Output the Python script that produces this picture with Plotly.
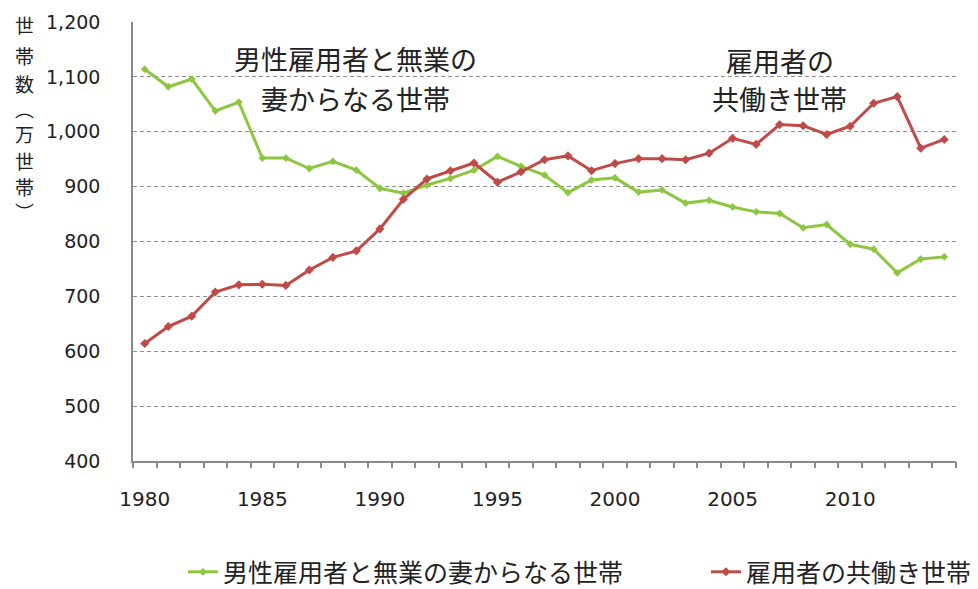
import plotly.graph_objects as go

years = list(range(1980, 2015))
sengyo = [1114, 1082, 1096, 1038, 1054, 952, 952, 933, 946, 930,
          897, 888, 903, 915, 930, 955, 937, 921, 889, 912,
          916, 890, 894, 870, 875, 863, 854, 851, 825, 831,
          795, 786, 743, 768, 772]
tomobataraki = [614, 645, 664, 708, 721, 722, 720, 748, 771, 783,
                823, 877, 914, 929, 943, 908, 927, 949, 956, 929,
                942, 951, 951, 949, 961, 988, 977, 1013, 1011, 995,
                1010, 1052, 1064, 970, 986]
name_green = "男性雇用者と無業の妻からなる世帯"
name_red = "雇用者の共働き世帯"
ytick_vals = [400, 500, 600, 700, 800, 900, 1000, 1100, 1200]
ytick_text = ["400", "500", "600", "700", "800", "900", "1,000", "1,100", "1,200"]
xtick_vals = [1980, 1985, 1990, 1995, 2000, 2005, 2010]
ytitle_chars = ["世", "帯", "数", "︵", "万", "世", "帯", "︶"]

GREEN = "#8DC63F"
RED = "#BE4B48"
JP = "Noto Sans CJK JP"
NUM = "DejaVu Sans"
AXC = "#8a8a8a"

fig = go.Figure()
fig.add_trace(go.Scatter(x=years, y=sengyo, name=name_green, mode="lines+markers",
                         line=dict(color=GREEN, width=3), legend="legend",
                         marker=dict(symbol="diamond", size=6, color=GREEN)))
fig.add_trace(go.Scatter(x=years, y=tomobataraki, name=name_red, mode="lines+markers",
                         line=dict(color=RED, width=3), legend="legend2",
                         marker=dict(symbol="diamond", size=7, color=RED)))
# carrier for the category-boundary tick axis (draws nothing)
fig.add_trace(go.Scatter(x=[years[0]], y=[None], xaxis="x2", showlegend=False,
                         hoverinfo="skip", mode="lines"))

leg_font = dict(family=JP, size=25, color="#222")
fig.update_layout(
    width=978, height=589,
    margin=dict(l=133, r=22, t=22, b=128, autoexpand=False),
    paper_bgcolor="white", plot_bgcolor="white",
    showlegend=True,
    legend=dict(orientation="h", x=(183 - 133) / 823, xanchor="left", y=-0.253, yanchor="middle",
                font=leg_font, bgcolor="rgba(0,0,0,0)"),
    legend2=dict(orientation="h", x=(706 - 133) / 823, xanchor="left", y=-0.253, yanchor="middle",
                 font=leg_font, bgcolor="rgba(0,0,0,0)"),
    xaxis=dict(range=[1979.5, 2014.5], tickvals=xtick_vals,
               ticktext=[str(v) for v in xtick_vals],
               ticks="", showgrid=False, zeroline=False,
               showline=True, linecolor=AXC, linewidth=1.5,
               tickfont=dict(family=NUM, size=20, color="#222"),
               ticklabelstandoff=19),
    xaxis2=dict(range=[1979.5, 2014.5], overlaying="x", anchor="y", side="bottom",
                tickvals=[y - 0.5 for y in years] + [2014.5],
                ticks="outside", ticklen=6, tickcolor=AXC, tickwidth=1.5,
                showticklabels=False, showgrid=False, zeroline=False, showline=False),
    yaxis=dict(range=[400, 1200], tickvals=ytick_vals, ticktext=ytick_text,
               showgrid=True, gridcolor="#8f8f8f", griddash="4px,3px", gridwidth=1,
               zeroline=False, showline=True, linecolor=AXC, linewidth=1.5,
               ticks="", tickfont=dict(family=NUM, size=19, color="#222"),
               ticklabelstandoff=27),
)

ann_font = dict(family=JP, size=27, color="#222")
fig.add_annotation(x=1988.95, y=1134, text="男性雇用者と無業の", showarrow=False, font=ann_font)
fig.add_annotation(x=1988.95, y=1061, text="妻からなる世帯", showarrow=False, font=ann_font)
fig.add_annotation(x=2007.0, y=1130, text="雇用者の", showarrow=False, font=ann_font)
fig.add_annotation(x=2007.0, y=1061, text="共働き世帯", showarrow=False, font=ann_font)

# vertical y-axis title, one character per row
title_rows = [25, 55, 84, 108, 133, 160, 187, 211]
for ch, py in zip(ytitle_chars, title_rows):
    fig.add_annotation(xref="paper", yref="paper",
                       x=(24 - 133) / 823, y=(461 - py) / 439,
                       xanchor="center", yanchor="middle",
                       text=ch, showarrow=False,
                       font=dict(family=JP, size=19, color="#222"))

fig.write_html("out.html", config={"displayModeBar": False},
               post_script="document.body.style.margin='0';document.body.style.overflow='hidden';")
